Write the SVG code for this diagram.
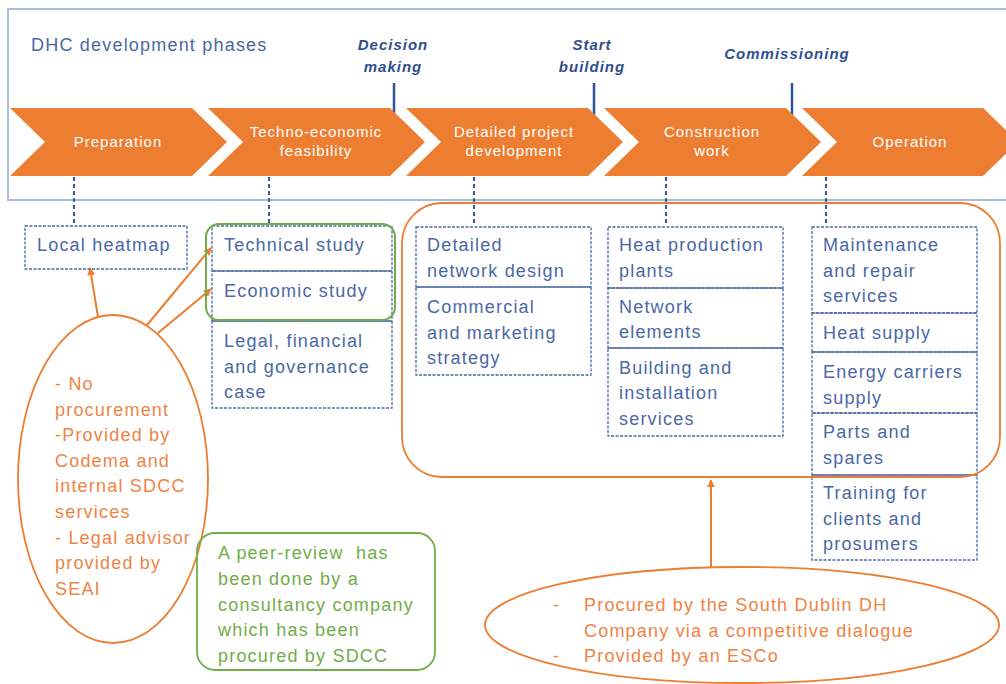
<svg xmlns="http://www.w3.org/2000/svg" width="1006" height="684" viewBox="0 0 1006 684">
<defs>
<style>
text{font-family:"Liberation Sans",Arial,sans-serif;}
.t{font-size:18px;letter-spacing:1.2px;fill:#4a68a6;}
.o{font-size:18px;letter-spacing:1.2px;fill:#ee8444;}
.g{font-size:18px;letter-spacing:1.2px;fill:#70ad47;}
.ch{font-size:15px;letter-spacing:1px;fill:#ffffff;text-anchor:middle;}
.ms{font-size:15px;letter-spacing:1px;fill:#2f4f8d;font-weight:bold;font-style:italic;text-anchor:middle;}
.box{fill:none;stroke:#4a68a6;stroke-width:1.3;stroke-dasharray:3 1.5;}
.chev{fill:#ed7d31;}
.tick{stroke:#2f5597;stroke-width:2.5;}
.vc{stroke:#3a5a9a;stroke-width:2;stroke-dasharray:4 3;fill:none;}
.oa{stroke:#ed7d31;stroke-width:2;fill:none;marker-end:url(#ah);}
</style>
<marker id="ah" viewBox="0 0 10 10" refX="9" refY="5" markerWidth="4" markerHeight="4" orient="auto" markerUnits="strokeWidth">
<path d="M0,0 L10,5 L0,10 Z" fill="#ed7d31"/>
</marker>
</defs>
<rect width="1006" height="684" fill="#ffffff"/>

<g id="frame">
<rect x="8" y="9" width="1010" height="191" fill="none" stroke="#a9bcd9" stroke-width="2"/>
<text x="31" y="51" class="t">DHC development phases</text>
</g>

<g id="milestones">
<text x="393" y="50" class="ms">Decision</text>
<text x="393" y="72" class="ms">making</text>
<line x1="394" y1="83" x2="394" y2="113" class="tick"/>
<text x="592" y="50" class="ms">Start</text>
<text x="592" y="72" class="ms">building</text>
<line x1="594" y1="83" x2="594" y2="115" class="tick"/>
<text x="787" y="59" class="ms">Commissioning</text>
<line x1="792" y1="83" x2="792" y2="115" class="tick"/>
</g>

<g id="phase-preparation">
<path class="chev" d="M10,108 L192,108 L227,142 L192,176 L10,176 L45,142 Z"/>
<text x="118" y="147" class="ch">Preparation</text>
</g>
<g id="phase-techno">
<path class="chev" d="M208,108 L390,108 L425,142 L390,176 L208,176 L243,142 Z"/>
<text x="316" y="137" class="ch">Techno-economic</text>
<text x="316" y="156" class="ch">feasibility</text>
</g>
<g id="phase-detailed">
<path class="chev" d="M406,108 L588,108 L623,142 L588,176 L406,176 L441,142 Z"/>
<text x="514" y="137" class="ch">Detailed project</text>
<text x="514" y="156" class="ch">development</text>
</g>
<g id="phase-construction">
<path class="chev" d="M604,108 L786,108 L821,142 L786,176 L604,176 L639,142 Z"/>
<text x="712" y="137" class="ch">Construction</text>
<text x="712" y="156" class="ch">work</text>
</g>
<g id="phase-operation">
<path class="chev" d="M802,108 L983,108 L1018,142 L983,176 L802,176 L837,142 Z"/>
<text x="910" y="147" class="ch">Operation</text>
</g>

<g id="connectors">
<line x1="74" y1="177" x2="74" y2="226" class="vc"/>
<line x1="269" y1="177" x2="269" y2="226" class="vc"/>
<line x1="474" y1="177" x2="474" y2="226" class="vc"/>
<line x1="666" y1="177" x2="666" y2="226" class="vc"/>
<line x1="826" y1="177" x2="826" y2="226" class="vc"/>
<line x1="98" y1="317" x2="90" y2="268" class="oa"/>
<line x1="147" y1="325" x2="211" y2="248" class="oa"/>
<line x1="158" y1="333" x2="211" y2="289" class="oa"/>
<line x1="711" y1="567" x2="711" y2="480" class="oa"/>
</g>

<g id="local-heatmap">
<rect x="25" y="226" width="162" height="43" class="box"/>
<text x="37" y="251" class="t">Local heatmap</text>
</g>

<g id="feasibility-studies">
<rect x="212" y="226" width="180" height="45" class="box"/>
<text x="224" y="251" class="t">Technical study</text>
<rect x="212" y="271" width="180" height="50" class="box"/>
<text x="224" y="297" class="t">Economic study</text>
<rect x="212" y="321" width="180" height="87" class="box"/>
<text x="224" y="347" class="t">Legal, financial</text>
<text x="224" y="373" class="t">and governance</text>
<text x="224" y="398" class="t">case</text>
</g>

<g id="green-group">
<rect x="206" y="224" width="189" height="96" rx="13" fill="none" stroke="#70ad47" stroke-width="2"/>
</g>

<g id="detailed-items">
<rect x="416" y="227" width="175" height="60" class="box"/>
<text x="427" y="251" class="t">Detailed</text>
<text x="427" y="277" class="t">network design</text>
<rect x="416" y="287" width="175" height="88" class="box"/>
<text x="427" y="313" class="t">Commercial</text>
<text x="427" y="339" class="t">and marketing</text>
<text x="427" y="364" class="t">strategy</text>
</g>

<g id="construction-items">
<rect x="608" y="227" width="175" height="61" class="box"/>
<text x="619" y="251" class="t">Heat production</text>
<text x="619" y="277" class="t">plants</text>
<rect x="608" y="288" width="175" height="60" class="box"/>
<text x="619" y="313" class="t">Network</text>
<text x="619" y="338" class="t">elements</text>
<rect x="608" y="348" width="175" height="88" class="box"/>
<text x="619" y="374" class="t">Building and</text>
<text x="619" y="399" class="t">installation</text>
<text x="619" y="425" class="t">services</text>
</g>

<g id="operation-items">
<rect x="812" y="227" width="165" height="86" class="box"/>
<text x="823" y="251" class="t">Maintenance</text>
<text x="823" y="277" class="t">and repair</text>
<text x="823" y="302" class="t">services</text>
<rect x="812" y="313" width="165" height="39" class="box"/>
<text x="823" y="339" class="t">Heat supply</text>
<rect x="812" y="352" width="165" height="61" class="box"/>
<text x="823" y="378" class="t">Energy carriers</text>
<text x="823" y="404" class="t">supply</text>
<rect x="812" y="413" width="165" height="62" class="box"/>
<text x="823" y="438" class="t">Parts and</text>
<text x="823" y="464" class="t">spares</text>
<rect x="812" y="475" width="165" height="85" class="box"/>
<text x="823" y="499" class="t">Training for</text>
<text x="823" y="525" class="t">clients and</text>
<text x="823" y="550" class="t">prosumers</text>
</g>

<g id="esco-scope">
<rect x="402" y="203" width="598" height="274" rx="40" fill="none" stroke="#ed7d31" stroke-width="1.8"/>
</g>

<g id="no-procurement">
<ellipse cx="113" cy="479" rx="95" ry="164" fill="none" stroke="#ed7d31" stroke-width="1.8"/>
<text x="55" y="390" class="o">- No</text>
<text x="55" y="416" class="o">procurement</text>
<text x="55" y="441" class="o">-Provided by</text>
<text x="55" y="467" class="o">Codema and</text>
<text x="55" y="492" class="o">internal SDCC</text>
<text x="55" y="518" class="o">services</text>
<text x="55" y="544" class="o">- Legal advisor</text>
<text x="55" y="569" class="o">provided by</text>
<text x="55" y="595" class="o">SEAI</text>
</g>

<g id="peer-review">
<rect x="197" y="533" width="238" height="137" rx="18" fill="none" stroke="#70ad47" stroke-width="1.8"/>
<text x="218" y="559" class="g">A peer-review&#160; has</text>
<text x="218" y="585" class="g">been done by a</text>
<text x="218" y="611" class="g">consultancy company</text>
<text x="218" y="636" class="g">which has been</text>
<text x="218" y="662" class="g">procured by SDCC</text>
</g>

<g id="competitive-dialogue">
<ellipse cx="742" cy="625" rx="257" ry="58" fill="none" stroke="#ed7d31" stroke-width="1.8"/>
<text x="553" y="611" class="o">-</text>
<text x="584" y="611" class="o">Procured by the South Dublin DH</text>
<text x="584" y="637" class="o">Company via a competitive dialogue</text>
<text x="553" y="662" class="o">-</text>
<text x="584" y="662" class="o">Provided by an ESCo</text>
</g>
</svg>
